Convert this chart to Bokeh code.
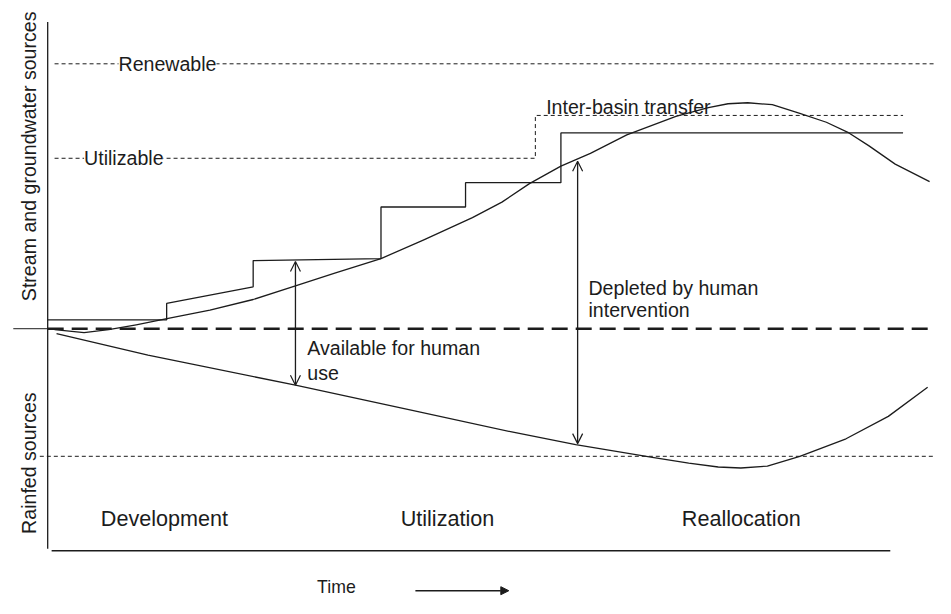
import math
from bokeh.plotting import figure
from bokeh.models import Range1d, Arrow, OpenHead, NormalHead, Label
from bokeh.embed import file_html
from bokeh.resources import INLINE

# ---- data (time units along x, water level relative to the zero line along y) ----
renewable_level = 272
utilizable_t = [7, 496, 496, 870]
utilizable_v = [175, 175, 219, 219]
rainfed_level = -131

supply_t = [0, 121, 121, 209, 209, 339, 339, 425, 425, 522, 522, 870]
supply_v = [9, 9, 26, 43, 70, 72, 125, 125, 150, 150, 201, 201]

demand_t = [7, 37, 62, 90, 120, 165, 209, 252, 292, 339, 382, 432, 462, 490, 522, 552,
            589, 639, 672, 692, 712, 737, 765, 792, 815, 835, 862, 897]
demand_v = [-1, -4, -1, 4, 10, 19, 30, 44, 57, 72, 91, 114, 130, 149, 167, 180,
            199, 218, 227, 231, 232, 230, 221, 212, 201, 188, 169, 151]

rainfed_t = [9, 102, 252, 372, 472, 537, 615, 652, 682, 705, 732, 765, 812, 855, 895]
rainfed_v = [-5, -27, -58, -84, -106, -119, -132, -138, -142, -143, -141, -131, -113, -90, -60]

phases = ["Development", "Utilization", "Reallocation"]
phase_t = [54, 359, 645]

FONT = "Liberation Sans"
INK = "#1c1c1c"

p = figure(width=935, height=598, x_range=Range1d(-48, 903), y_range=Range1d(-277, 337),
           output_backend="svg", toolbar_location=None, min_border=0,
           x_axis_location=None, y_axis_location=None)
p.grid.visible = False
p.outline_line_color = None
p.background_fill_color = "white"
p.border_fill_color = "white"

# frame lines
p.line([0, 0], [315, -226], line_color=INK, line_width=1.3)
p.line([4, 857], [-228, -228], line_color=INK, line_width=1.5)
p.line([-35, 0], [0, 0], line_color=INK, line_width=1)
p.line([0, 903], [0, 0], line_color=INK, line_width=2.6, line_dash="16 8")

# dotted limits
p.line([7, 903], [renewable_level, renewable_level], line_color=INK, line_width=1, line_dash="4 3")
p.line(utilizable_t, utilizable_v, line_color=INK, line_width=1, line_dash="4 3")
p.line([-8, 903], [rainfed_level, rainfed_level], line_color=INK, line_width=1, line_dash="4 3")

# supply step and curves
p.line(supply_t, supply_v, line_color=INK, line_width=1.3)
p.line(demand_t, demand_v, line_color=INK, line_width=1.3, line_join="round")
p.line(rainfed_t, rainfed_v, line_color=INK, line_width=1.3, line_join="round")

# double arrows
for (xa, y0, y1) in [(252, 69, -58), (539, 172, -118)]:
    p.add_layout(Arrow(start=OpenHead(size=10, line_color=INK, line_width=1.2),
                       end=OpenHead(size=10, line_color=INK, line_width=1.2),
                       x_start=xa, y_start=y0, x_end=xa, y_end=y1,
                       line_color=INK, line_width=1.3))

# time arrow
p.add_layout(Arrow(end=NormalHead(size=8, fill_color=INK, line_color=INK),
                   x_start=374, y_start=-269, x_end=469, y_end=-269,
                   line_color=INK, line_width=1.5))

def lab(x, y, text, size="19.6px", bg=None, angle=0, align="left"):
    kw = {}
    if bg:
        kw["background_fill_color"] = bg
    p.add_layout(Label(x=x, y=y, text=text, text_font=FONT, text_font_size=size,
                       text_color=INK, text_baseline="alphabetic", text_align=align,
                       angle=angle, **kw))

lab(72, 272, "Renewable", bg="white")
lab(37, 175, "Utilizable", bg="white")
lab(507, 228, "Inter-basin transfer")
lab(264, -20, "Available for human")
lab(264, -45, "use")
lab(550, 42, "Depleted by human")
lab(550, 19, "intervention")
for name, t in zip(phases, phase_t):
    lab(t, -195, name, size="21.6px")
lab(274, -265, "Time", size="17.7px")
lab(-19, 177, "Stream and groundwater sources", angle=math.pi / 2, align="center")
lab(-19, -138, "Rainfed sources", angle=math.pi / 2, align="center")

open("out.html", "w").write(file_html(p, INLINE))
